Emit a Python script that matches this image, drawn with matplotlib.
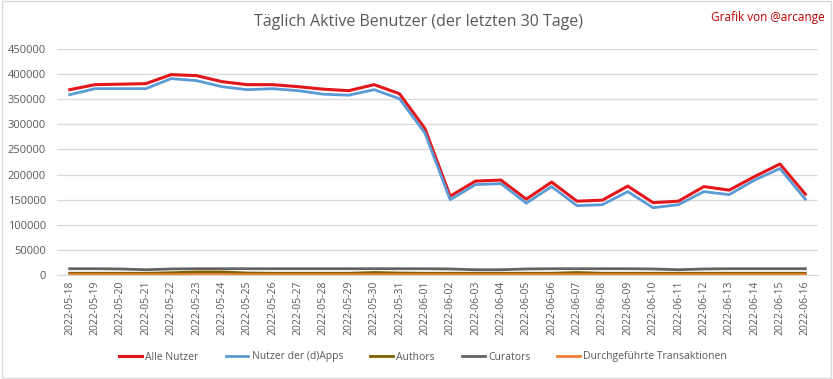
import numpy as np
import matplotlib.pyplot as plt

# data
dates = ["2022-05-18", "2022-05-19", "2022-05-20", "2022-05-21", "2022-05-22",
         "2022-05-23", "2022-05-24", "2022-05-25", "2022-05-26", "2022-05-27",
         "2022-05-28", "2022-05-29", "2022-05-30", "2022-05-31", "2022-06-01",
         "2022-06-02", "2022-06-03", "2022-06-04", "2022-06-05", "2022-06-06",
         "2022-06-07", "2022-06-08", "2022-06-09", "2022-06-10", "2022-06-11",
         "2022-06-12", "2022-06-13", "2022-06-14", "2022-06-15", "2022-06-16"]
alle_nutzer = [369000, 379000, 380000, 381000, 399000, 397000, 385000, 379000, 379000, 375000,
               370000, 367000, 379000, 361000, 292000, 157000, 187000, 189000, 151000, 185000,
               147000, 149000, 177000, 144000, 147000, 176000, 169000, 196000, 221000, 161000]
dapps_nutzer = [359000, 371000, 371000, 371000, 391000, 387000, 375000, 369000, 371000, 367000,
                360000, 358000, 369000, 351000, 283000, 150000, 180000, 182000, 143000, 176000,
                138000, 140000, 166000, 134000, 140000, 166000, 160000, 189000, 212000, 151000]
authors = [3500, 3500, 3500, 3500, 4500, 6000, 6000, 4000, 3500, 3500,
           3500, 3500, 5000, 4000, 3500, 3500, 3500, 3500, 3500, 3500,
           5000, 3500, 3500, 3500, 3500, 3500, 3500, 3500, 3500, 3500]
curators = [12500, 12500, 12000, 10500, 12000, 12500, 12500, 12500, 12500, 12500,
            12500, 12500, 12500, 12500, 12500, 12000, 10500, 10500, 12000, 12500,
            12500, 12500, 12500, 12000, 10500, 12000, 12500, 12500, 12500, 12500]
transaktionen = [2000] * 30

plt.rcParams['font.family'] = ['Open Sans', 'DejaVu Sans']

fig = plt.figure(figsize=(8.33, 3.79), dpi=100)
ax = fig.add_axes([57 / 833, 1 - 275 / 379, 761 / 833, 226 / 379])

x = np.arange(len(dates))
ax.plot(x, alle_nutzer, color="#E3161B", lw=2.2, label="Alle Nutzer")
ax.plot(x, dapps_nutzer, color="#5B9BD5", lw=2.0, label="Nutzer der (d)Apps")
ax.plot(x, authors, color="#7F6000", lw=2.0, label="Authors")
ax.plot(x, curators, color="#636363", lw=2.0, label="Curators")
ax.plot(x, transaktionen, color="#ED7D31", lw=2.0, label="Durchgeführte Transaktionen")

ax.set_xlim(-0.5, len(dates) - 0.5)
ax.set_ylim(0, 450000)
ax.set_yticks(np.arange(0, 450001, 50000))
ax.set_xticks(x)
ax.set_xticklabels(dates, rotation=90, fontsize=7.5, color="#595959")
ax.tick_params(axis="y", labelsize=8, colors="#595959", length=0, pad=8)
ax.tick_params(axis="x", length=0, pad=4)
ax.grid(axis="y", color="#D9D9D9", lw=0.9)
ax.set_axisbelow(True)
for s in ["top", "right", "left"]:
    ax.spines[s].set_visible(False)
ax.spines["bottom"].set_color("#D9D9D9")

fig.text(0.502, 1 - 22 / 379, "Täglich Aktive Benutzer (der letzten 30 Tage)",
         ha="center", va="center", fontsize=11.5, color="#595959")
fig.text(825 / 833, 1 - 17 / 379, "Grafik von @arcange", ha="right", va="center",
         fontsize=8.5, color="#C00000")

fig.legend(loc="center", bbox_to_anchor=(0.508, 1 - 357 / 379), ncol=5, frameon=False,
           fontsize=7.5, handlelength=2.2, columnspacing=2.6, handletextpad=0.3,
           labelcolor="#595959")

fig.patches.append(plt.Rectangle((0.002, 0.003), 0.996, 0.994, transform=fig.transFigure,
                                 fill=False, edgecolor="#D9D9D9", lw=1))

fig.savefig("out.png", dpi=100)
